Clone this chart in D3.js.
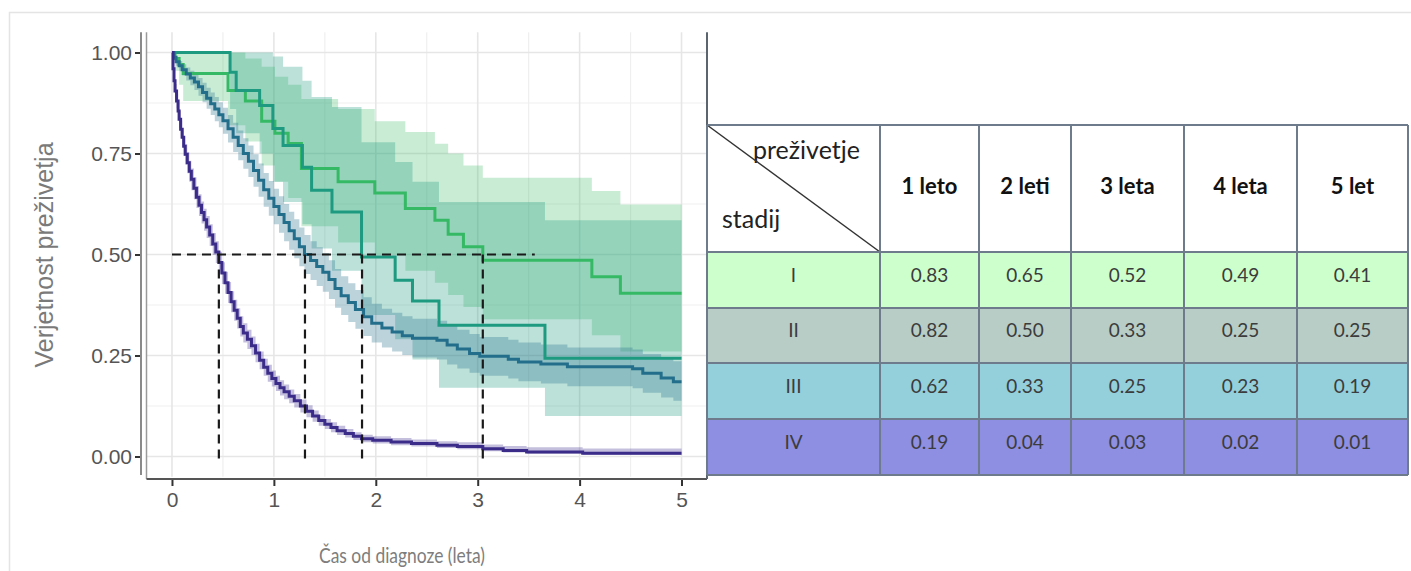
<!DOCTYPE html>
<html>
<head>
<meta charset="utf-8">
<script src="https://cdn.jsdelivr.net/npm/d3@7"></script>
<style>
  body { margin: 0; background: #fff; }
  svg { display: block; }
</style>
</head>
<body>
<svg id="chart" width="1411" height="571"></svg>
<script>
// ---- values ----
const yearTicks = [0, 1, 2, 3, 4, 5];
const survTicks = [0, 0.25, 0.5, 0.75, 1];
const medianTimes = [0.46, 1.305, 1.865, 3.05];
const medianLineEnd = 3.56;

// stage I
const timeI = [0, 0.03, 0.07, 0.11, 0.55, 0.72, 0.88, 1.01, 1.14, 1.27, 1.63, 1.99, 2.29, 2.58, 2.71, 2.86, 3.05, 4.12, 4.40, 5];
const survI = [1, 0.985, 0.97, 0.948, 0.906, 0.88, 0.83, 0.80, 0.775, 0.713, 0.68, 0.652, 0.614, 0.585, 0.55, 0.519, 0.486, 0.445, 0.404, 0.404];
const lowI = [1, 0.955, 0.92, 0.88, 0.82, 0.78, 0.72, 0.68, 0.64, 0.57, 0.53, 0.50, 0.46, 0.43, 0.40, 0.37, 0.34, 0.30, 0.26, 0.26];
const upI = [1, 1, 1, 1, 1, 0.985, 0.965, 0.94, 0.92, 0.885, 0.86, 0.83, 0.803, 0.774, 0.75, 0.72, 0.69, 0.657, 0.624, 0.624];

// stage II
const timeII = [0, 0.57, 0.63, 0.86, 0.99, 1.09, 1.28, 1.37, 1.57, 1.86, 2.19, 2.36, 2.62, 3.66, 5];
const survII = [1, 0.951, 0.906, 0.869, 0.812, 0.77, 0.716, 0.659, 0.605, 0.494, 0.436, 0.385, 0.325, 0.243, 0.243];
const lowII = [1, 0.86, 0.80, 0.75, 0.68, 0.63, 0.575, 0.515, 0.46, 0.35, 0.29, 0.24, 0.17, 0.10, 0.10];
const upII = [1, 1, 1, 1, 0.99, 0.965, 0.93, 0.89, 0.865, 0.778, 0.729, 0.68, 0.63, 0.585, 0.585];

// stage III
const timeIII = [0, 0.02, 0.04, 0.07, 0.10, 0.14, 0.18, 0.22, 0.26, 0.30, 0.34, 0.38, 0.42, 0.46, 0.50, 0.55, 0.60, 0.65, 0.70, 0.75,
  0.80, 0.85, 0.90, 0.95, 1.00, 1.05, 1.10, 1.15, 1.20, 1.25, 1.30, 1.36, 1.42, 1.48, 1.54, 1.60, 1.66, 1.73, 1.80, 1.88,
  1.96, 2.06, 2.16, 2.26, 2.36, 2.60, 2.70, 2.80, 2.92, 3.02, 3.30, 3.40, 3.62, 3.88, 4.52, 4.62, 4.80, 4.92, 5];
const survIII = [1, 0.988, 0.977, 0.967, 0.957, 0.947, 0.937, 0.927, 0.915, 0.901, 0.887, 0.873, 0.860, 0.846, 0.831, 0.811, 0.790, 0.770, 0.750, 0.731,
  0.708, 0.684, 0.660, 0.639, 0.619, 0.599, 0.579, 0.559, 0.539, 0.519, 0.500, 0.485, 0.470, 0.456, 0.438, 0.416, 0.398, 0.381, 0.364, 0.346,
  0.330, 0.318, 0.308, 0.299, 0.293, 0.288, 0.276, 0.266, 0.255, 0.248, 0.241, 0.234, 0.229, 0.222, 0.217, 0.206, 0.194, 0.185, 0.185];
const lowIII = [1, 0.980, 0.967, 0.955, 0.943, 0.931, 0.919, 0.907, 0.893, 0.877, 0.861, 0.845, 0.830, 0.815, 0.799, 0.777, 0.754, 0.733, 0.712, 0.692,
  0.668, 0.643, 0.618, 0.596, 0.575, 0.554, 0.533, 0.512, 0.491, 0.471, 0.452, 0.437, 0.422, 0.408, 0.390, 0.368, 0.350, 0.333, 0.316, 0.298,
  0.282, 0.270, 0.260, 0.251, 0.245, 0.240, 0.228, 0.218, 0.207, 0.200, 0.193, 0.186, 0.181, 0.174, 0.169, 0.158, 0.146, 0.138, 0.138];
const upIII = [1, 0.996, 0.987, 0.979, 0.971, 0.963, 0.955, 0.947, 0.937, 0.925, 0.913, 0.901, 0.890, 0.877, 0.863, 0.845, 0.826, 0.807, 0.788, 0.770,
  0.748, 0.725, 0.702, 0.682, 0.663, 0.644, 0.625, 0.606, 0.587, 0.567, 0.548, 0.533, 0.518, 0.504, 0.486, 0.464, 0.446, 0.429, 0.412, 0.394,
  0.378, 0.366, 0.356, 0.347, 0.341, 0.336, 0.324, 0.314, 0.303, 0.296, 0.289, 0.282, 0.277, 0.270, 0.265, 0.254, 0.242, 0.236, 0.236];

// stage IV
const timeIV = [0, 0.01, 0.02, 0.03, 0.045, 0.06, 0.07, 0.085, 0.10, 0.115, 0.13, 0.15, 0.17, 0.19, 0.215, 0.24, 0.265, 0.29, 0.315, 0.34,
  0.37, 0.40, 0.43, 0.46, 0.49, 0.52, 0.55, 0.58, 0.61, 0.64, 0.67, 0.70, 0.74, 0.78, 0.82, 0.86, 0.90, 0.94, 0.98, 1.02,
  1.06, 1.10, 1.15, 1.20, 1.26, 1.32, 1.38, 1.44, 1.50, 1.56, 1.62, 1.70, 1.78, 1.86, 1.97, 2.15, 2.35, 2.60, 2.80, 3.05,
  3.25, 3.48, 4.03, 5];
const survIV = [1, 0.96, 0.93, 0.905, 0.88, 0.855, 0.835, 0.81, 0.79, 0.768, 0.748, 0.727, 0.706, 0.686, 0.664, 0.642, 0.622, 0.604, 0.586, 0.568,
  0.548, 0.526, 0.506, 0.48, 0.454, 0.43, 0.406, 0.383, 0.362, 0.342, 0.322, 0.306, 0.29, 0.274, 0.256, 0.238, 0.221, 0.206, 0.193, 0.181,
  0.17, 0.16, 0.149, 0.138, 0.125, 0.112, 0.10, 0.089, 0.08, 0.072, 0.064, 0.057, 0.05, 0.044, 0.040, 0.036, 0.032, 0.028, 0.025, 0.019,
  0.015, 0.011, 0.008, 0.008];
const lowIV = [1, 0.948, 0.915, 0.888, 0.862, 0.835, 0.814, 0.788, 0.767, 0.744, 0.723, 0.701, 0.680, 0.659, 0.637, 0.615, 0.595, 0.577, 0.559, 0.541,
  0.521, 0.499, 0.479, 0.453, 0.427, 0.403, 0.380, 0.357, 0.336, 0.317, 0.297, 0.282, 0.266, 0.251, 0.233, 0.216, 0.200, 0.185, 0.173, 0.162,
  0.151, 0.142, 0.132, 0.121, 0.109, 0.097, 0.086, 0.076, 0.068, 0.060, 0.053, 0.047, 0.041, 0.035, 0.032, 0.028, 0.025, 0.021, 0.018, 0.013,
  0.010, 0.007, 0.004, 0.004];
const upIV = [1, 0.972, 0.945, 0.922, 0.898, 0.875, 0.856, 0.832, 0.813, 0.792, 0.773, 0.753, 0.732, 0.713, 0.691, 0.669, 0.649, 0.631, 0.613, 0.595,
  0.575, 0.553, 0.533, 0.507, 0.481, 0.457, 0.432, 0.409, 0.388, 0.367, 0.347, 0.330, 0.314, 0.297, 0.279, 0.260, 0.242, 0.227, 0.213, 0.200,
  0.189, 0.178, 0.166, 0.155, 0.141, 0.127, 0.114, 0.102, 0.093, 0.085, 0.076, 0.068, 0.060, 0.054, 0.050, 0.046, 0.042, 0.038, 0.035, 0.030,
  0.026, 0.023, 0.020, 0.020];

// table
const tableYears = ['1 leto', '2 leti', '3 leta', '4 leta', '5 let'];
const tableStages = ['I', 'II', 'III', 'IV'];
const tableI = [0.83, 0.65, 0.52, 0.49, 0.41];
const tableII = [0.82, 0.50, 0.33, 0.25, 0.25];
const tableIII = [0.62, 0.33, 0.25, 0.23, 0.19];
const tableIV = [0.19, 0.04, 0.03, 0.02, 0.01];

// ---- drawing ----
const svg = d3.select('#chart');

// light frame of the screenshot
svg.append('path')
  .attr('d', 'M9.5,571V12.5H1411')
  .attr('fill', 'none')
  .attr('stroke', '#e4e4e4')
  .attr('stroke-width', 1.5);

const x = d3.scaleLinear().domain([-0.25, 5.25]).range([146.5, 707]);
const y = d3.scaleLinear().domain([-0.05, 1.05]).range([476.7, 32.3]);

const plot = svg.append('g');

// grid
const minorX = yearTicks.slice(0, -1).map(d => d + 0.5);
const minorY = survTicks.slice(0, -1).map(d => d + 0.125);
plot.append('g').selectAll('line').data(minorX).enter().append('line')
  .attr('x1', d => x(d)).attr('x2', d => x(d))
  .attr('y1', y.range()[1]).attr('y2', y.range()[0])
  .attr('stroke', '#efefef').attr('stroke-width', 1.2);
plot.append('g').selectAll('line').data(minorY).enter().append('line')
  .attr('y1', d => y(d)).attr('y2', d => y(d))
  .attr('x1', x.range()[0]).attr('x2', x.range()[1])
  .attr('stroke', '#efefef').attr('stroke-width', 1.2);
plot.append('g').selectAll('line').data(yearTicks).enter().append('line')
  .attr('x1', d => x(d)).attr('x2', d => x(d))
  .attr('y1', y.range()[1]).attr('y2', y.range()[0])
  .attr('stroke', '#e6e6e6').attr('stroke-width', 1.6);
plot.append('g').selectAll('line').data(survTicks).enter().append('line')
  .attr('y1', d => y(d)).attr('y2', d => y(d))
  .attr('x1', x.range()[0]).attr('x2', x.range()[1])
  .attr('stroke', '#e6e6e6').attr('stroke-width', 1.6);

const stages = [
  { time: timeI, surv: survI, low: lowI, up: upI, color: '#36b964', alpha: 0.27 },
  { time: timeII, surv: survII, low: lowII, up: upII, color: '#1d9a80', alpha: 0.3 },
  { time: timeIII, surv: survIII, low: lowIII, up: upIII, color: '#236e8b', alpha: 0.3 },
  { time: timeIV, surv: survIV, low: lowIV, up: upIV, color: '#3b2c8a', alpha: 0.3 }
];
stages.forEach(s => {
  s.rows = s.time.map((t, i) => ({ t: t, s: s.surv[i], lo: s.low[i], up: s.up[i] }));
});

const band = d3.area()
  .x(d => x(d.t))
  .y0(d => y(d.lo))
  .y1(d => y(d.up))
  .curve(d3.curveStepAfter);

const line = d3.line()
  .x(d => x(d.t))
  .y(d => y(d.s))
  .curve(d3.curveStepAfter);

plot.append('g').selectAll('path').data(stages).enter().append('path')
  .attr('d', d => band(d.rows))
  .attr('fill', d => d.color)
  .attr('fill-opacity', d => d.alpha);

plot.append('g').selectAll('path').data(stages).enter().append('path')
  .attr('d', d => line(d.rows))
  .attr('fill', 'none')
  .attr('stroke', d => d.color)
  .attr('stroke-width', 3);

// median lines
const dash = plot.append('g')
  .attr('stroke', '#1a1a1a')
  .attr('stroke-width', 2.2)
  .attr('stroke-dasharray', '9,6');
dash.append('line')
  .attr('x1', x(0)).attr('x2', x(medianLineEnd))
  .attr('y1', y(0.5)).attr('y2', y(0.5));
dash.selectAll('.vdash').data(medianTimes).enter().append('line')
  .attr('class', 'vdash')
  .attr('x1', d => x(d)).attr('x2', d => x(d))
  .attr('y1', y(0.5)).attr('y2', y(0) + 4);

// axes
const tickFont = '"Liberation Sans", Arial, sans-serif';
const yAxis = svg.append('g')
  .attr('transform', 'translate(141,0)')
  .call(d3.axisLeft(y).tickValues(survTicks).tickFormat(d3.format('.2f')).tickSize(6).tickPadding(3));
yAxis.select('.domain').remove();
yAxis.selectAll('.tick line').attr('stroke', '#333').attr('stroke-width', 2);
yAxis.selectAll('.tick text')
  .attr('fill', '#555')
  .style('font', '21px ' + tickFont);

const xAxis = svg.append('g')
  .attr('transform', 'translate(0,479)')
  .call(d3.axisBottom(x).tickValues(yearTicks).tickFormat(d3.format('d')).tickSize(7).tickPadding(6));
xAxis.select('.domain').remove();
xAxis.selectAll('.tick line').attr('stroke', '#333').attr('stroke-width', 2);
xAxis.selectAll('.tick text')
  .attr('fill', '#555')
  .style('font', '21px ' + tickFont);

// axis and panel lines
svg.append('line')
  .attr('x1', 141).attr('x2', 141).attr('y1', y.range()[1]).attr('y2', 475)
  .attr('stroke', '#8a8a8a').attr('stroke-width', 2);
svg.append('line')
  .attr('x1', 146.5).attr('x2', 146.5).attr('y1', y.range()[1]).attr('y2', 479)
  .attr('stroke', '#9a9a9a').attr('stroke-width', 1.5);
svg.append('line')
  .attr('x1', 146.5).attr('x2', 707).attr('y1', 479).attr('y2', 479)
  .attr('stroke', '#555').attr('stroke-width', 2);
svg.append('line')
  .attr('x1', 707).attr('x2', 707).attr('y1', y.range()[1]).attr('y2', 479)
  .attr('stroke', '#5c6470').attr('stroke-width', 2);

// axis titles
svg.append('text')
  .attr('transform', 'translate(53,255) rotate(-90)')
  .attr('text-anchor', 'middle')
  .attr('fill', '#7a7a7a')
  .style('font', '25px ' + tickFont)
  .text('Verjetnost preživetja');

svg.append('text')
  .attr('x', 402).attr('y', 563)
  .attr('text-anchor', 'middle')
  .attr('fill', '#7d7d7d')
  .attr('textLength', 166)
  .attr('lengthAdjust', 'spacingAndGlyphs')
  .style('font', '21px Lato, "Open Sans", sans-serif')
  .text('Čas od diagnoze (leta)');

// ---- table ----
const colEdges = [707, 880, 979, 1071, 1184, 1297, 1408];
const rowEdges = [125, 252, 308, 363, 419, 475];
const rowFills = ['#ccffcc', '#b7cdc6', '#93d0dc', '#8e8ee2'];
const tableRows = [tableI, tableII, tableIII, tableIV];
const tableFont = 'Lato, "Open Sans", sans-serif';

const table = svg.append('g');
const rowData = tableRows.map((vals, i) => ({ stage: tableStages[i], vals: vals, fill: rowFills[i], top: rowEdges[i + 1], bottom: rowEdges[i + 2] }));

table.append('rect')
  .attr('x', colEdges[0]).attr('y', rowEdges[0])
  .attr('width', colEdges[6] - colEdges[0]).attr('height', rowEdges[1] - rowEdges[0])
  .attr('fill', '#fff');

const rows = table.selectAll('.trow').data(rowData).enter().append('g').attr('class', 'trow');
rows.append('rect')
  .attr('x', colEdges[0]).attr('y', d => d.top)
  .attr('width', colEdges[6] - colEdges[0]).attr('height', d => d.bottom - d.top)
  .attr('fill', d => d.fill);
rows.append('text')
  .attr('x', (colEdges[0] + colEdges[1]) / 2)
  .attr('y', d => (d.top + d.bottom) / 2 - 3)
  .attr('text-anchor', 'middle').attr('dominant-baseline', 'middle')
  .attr('fill', '#3c3c3c')
  .style('font', '19px ' + tableFont)
  .text(d => d.stage);
rows.selectAll('.val').data(d => d.vals.map((v, j) => ({ v: v, j: j, row: d })))
  .enter().append('text')
  .attr('class', 'val')
  .attr('x', d => (colEdges[d.j + 1] + colEdges[d.j + 2]) / 2)
  .attr('y', d => (d.row.top + d.row.bottom) / 2 - 3)
  .attr('text-anchor', 'middle').attr('dominant-baseline', 'middle')
  .attr('fill', '#3c3c3c')
  .style('font', '19px ' + tableFont)
  .text(d => d3.format('.2f')(d.v));

table.selectAll('.hdr').data(tableYears).enter().append('text')
  .attr('class', 'hdr')
  .attr('x', (d, j) => (colEdges[j + 1] + colEdges[j + 2]) / 2)
  .attr('y', (rowEdges[0] + rowEdges[1]) / 2)
  .attr('text-anchor', 'middle').attr('dominant-baseline', 'middle')
  .attr('fill', '#111')
  .style('font', 'bold 22px ' + tableFont)
  .text(d => d);

table.append('text')
  .attr('x', 753).attr('y', 159)
  .attr('fill', '#222')
  .style('font', '25px ' + tableFont)
  .text('preživetje');
table.append('text')
  .attr('x', 722).attr('y', 228)
  .attr('fill', '#222')
  .style('font', '25px ' + tableFont)
  .text('stadij');
table.append('line')
  .attr('x1', colEdges[0]).attr('y1', rowEdges[0])
  .attr('x2', colEdges[1]).attr('y2', rowEdges[1])
  .attr('stroke', '#333').attr('stroke-width', 1.5);

const gridStroke = '#6d7b8c';
table.selectAll('.vgrid').data(colEdges).enter().append('line')
  .attr('x1', d => d).attr('x2', d => d)
  .attr('y1', rowEdges[0]).attr('y2', rowEdges[rowEdges.length - 1])
  .attr('stroke', gridStroke).attr('stroke-width', 2);
table.selectAll('.hgrid').data(rowEdges).enter().append('line')
  .attr('y1', d => d).attr('y2', d => d)
  .attr('x1', colEdges[0]).attr('x2', colEdges[colEdges.length - 1])
  .attr('stroke', gridStroke).attr('stroke-width', 2);
</script>
</body>
</html>
